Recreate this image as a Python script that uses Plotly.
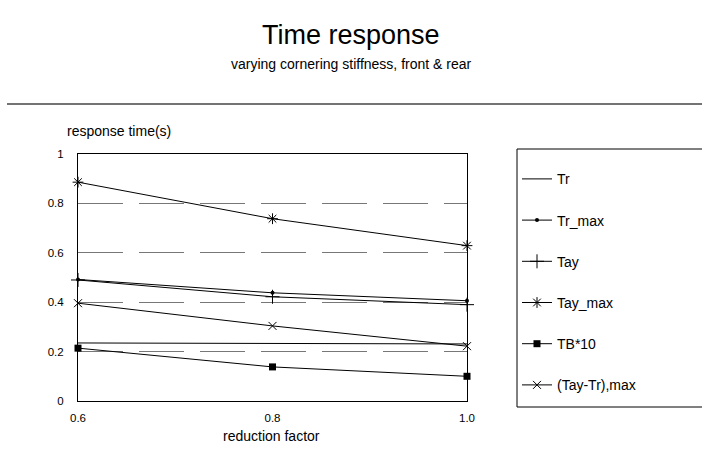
import plotly.graph_objects as go

reduction_factor = [0.6, 0.8, 1.0]
tr = [0.235, 0.233, 0.231]
tr_max = [0.492, 0.438, 0.406]
tay = [0.49, 0.422, 0.39]
tay_max = [0.886, 0.738, 0.629]
tb10 = [0.214, 0.138, 0.100]
tay_tr_max = [0.396, 0.304, 0.222]

x_ticks = [0.6, 0.8, 1.0]
x_tick_labels = ["0.6", "0.8", "1.0"]
y_ticks = [0, 0.2, 0.4, 0.6, 0.8, 1]
y_tick_labels = ["0", "0.2", "0.4", "0.6", "0.8", "1"]

series = [
    ("Tr", tr, None),
    ("Tr_max", tr_max, dict(size=4, symbol="circle", color="black")),
    ("Tay", tay, dict(size=10, symbol="cross-thin-open", color="black", line=dict(width=1, color="black"))),
    ("Tay_max", tay_max, dict(size=9, symbol="asterisk-open", color="black", line=dict(width=1, color="black"))),
    ("TB*10", tb10, dict(size=7, symbol="square", color="black")),
    ("(Tay-Tr),max", tay_tr_max, dict(size=8, symbol="x-thin-open", color="black", line=dict(width=1, color="black"))),
]

W, H = 702, 468
L, R, T, B = 78, 235, 154, 67
PW, PH = W - L - R, H - T - B


def px_x(px):
    return (px - L) / PW


def px_y(py):
    return (H - B - py) / PH


fig = go.Figure()
for name, vals, mk in series:
    mode = "lines" if mk is None else "lines+markers"
    kw = dict(marker=mk) if mk is not None else {}
    fig.add_trace(go.Scatter(
        x=reduction_factor, y=vals, name=name, mode=mode,
        line=dict(color="black", width=1),
        legendgroup=name, cliponaxis=False, **kw,
    ))

font = "Liberation Sans, Arial, sans-serif"
fig.update_layout(
    width=W, height=H,
    margin=dict(l=L, r=R, t=T, b=B),
    paper_bgcolor="white", plot_bgcolor="white",
    font=dict(family=font, color="black", size=11),
    xaxis=dict(range=[0.6, 1.0], tickvals=x_ticks, ticktext=x_tick_labels,
               showgrid=False, zeroline=False, showline=True, mirror=True,
               linecolor="black", linewidth=1, ticks="", ticklen=0,
               ticklabelstandoff=6,
               tickfont=dict(size=11.5), fixedrange=True),
    yaxis=dict(range=[0, 1], tickvals=y_ticks, ticktext=y_tick_labels,
               showgrid=True, gridcolor="#777777", gridwidth=1, griddash="45px,16px",
               zeroline=False, showline=True, mirror=True,
               linecolor="black", linewidth=1, ticks="", ticklen=0,
               ticklabelstandoff=11,
               tickfont=dict(size=11.5), fixedrange=True),
    showlegend=True,
    legend=dict(
        x=px_x(517), xanchor="left",
        y=px_y(149), yanchor="top",
        borderwidth=0, bgcolor="rgba(0,0,0,0)",
        font=dict(size=14, family=font),
        title=dict(text=" ", font=dict(size=11)),
        tracegroupgap=20, itemwidth=30,
        traceorder="grouped", maxheight=300,
    ),
    annotations=[
        dict(text="Time response", x=0.5 * W / PW - L / PW, y=px_y(35), xref="paper", yref="paper",
             xanchor="center", yanchor="middle", showarrow=False,
             font=dict(size=27, family=font)),
        dict(text="varying cornering stiffness, front & rear", x=0.5 * W / PW - L / PW, y=px_y(64),
             xref="paper", yref="paper", xanchor="center", yanchor="middle",
             showarrow=False, font=dict(size=14, family=font)),
        dict(text="response time(s)", x=px_x(65), y=px_y(131),
             xref="paper", yref="paper", xanchor="left", yanchor="middle",
             showarrow=False, font=dict(size=14, family=font)),
        dict(text="reduction factor", x=px_x(271), y=px_y(436),
             xref="paper", yref="paper", xanchor="center", yanchor="middle",
             showarrow=False, font=dict(size=14, family=font)),
    ],
    shapes=[
        dict(type="line", xref="paper", yref="paper",
             x0=px_x(7), x1=px_x(W + 5),
             y0=px_y(104), y1=px_y(104),
             line=dict(color="#444444", width=1.5)),
        dict(type="rect", xref="paper", yref="paper",
             x0=px_x(517), x1=px_x(W + 10),
             y0=px_y(407), y1=px_y(149),
             line=dict(color="black", width=1), fillcolor="rgba(0,0,0,0)"),
    ],
)

fig.write_html("out.html")
